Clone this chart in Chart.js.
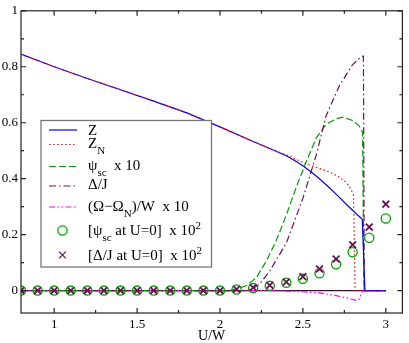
<!DOCTYPE html>
<html>
<head>
<meta charset="utf-8">
<script src="https://cdn.jsdelivr.net/npm/chart.js@4.4.1/dist/chart.umd.min.js"></script>
<style>
  html, body { margin: 0; padding: 0; background: #fff; }
</style>
</head>
<body>
<canvas id="chart" width="409" height="343"></canvas>
<script>
// --- data ---
const xTicks = [1, 1.5, 2, 2.5, 3];
const xTickLabels = ['1', '1.5', '2', '2.5', '3'];
const xMinor = [1.25, 1.75, 2.25, 2.75];
const yTicks = [0, 0.2, 0.4, 0.6, 0.8, 1];
const yTickLabels = ['0', '0.2', '0.4', '0.6', '0.8', '1'];
const yMinor = [0.1, 0.3, 0.5, 0.7, 0.9];

// Z
const zX = [0.8, 1.0, 1.2, 1.4, 1.6, 1.8, 2.0, 2.2, 2.3, 2.4, 2.45, 2.5, 2.55, 2.6, 2.65, 2.7, 2.78, 2.858, 2.874, 3.0];
const zY = [0.845, 0.80, 0.758, 0.718, 0.677, 0.635, 0.585, 0.533, 0.508, 0.482, 0.465, 0.446, 0.424, 0.40, 0.373, 0.345, 0.298, 0.255, 0, 0];
// Z_N
const znX = [0.8, 1.0, 1.2, 1.4, 1.6, 1.8, 2.0, 2.2, 2.3, 2.4, 2.5, 2.6, 2.66, 2.72, 2.76, 2.79, 2.805, 2.815, 3.0];
const znY = [0.845, 0.80, 0.758, 0.718, 0.677, 0.635, 0.585, 0.533, 0.508, 0.485, 0.458, 0.436, 0.424, 0.405, 0.388, 0.362, 0.34, 0, 0];
// psi_sc x 10
const psiX = [0.8, 2.05, 2.1, 2.16, 2.22, 2.28, 2.34, 2.4, 2.46, 2.52, 2.58, 2.64, 2.7, 2.74, 2.8, 2.84, 2.86, 2.868, 3.0];
const psiY = [0, 0, 0.006, 0.018, 0.047, 0.106, 0.18, 0.27, 0.37, 0.46, 0.545, 0.595, 0.614, 0.62, 0.608, 0.588, 0.565, 0, 0];
// Delta/J
const gapX = [0.8, 2.15, 2.2, 2.24, 2.3, 2.4, 2.5, 2.58, 2.64, 2.72, 2.8, 2.85, 2.865, 2.87, 3.0];
const gapY = [0, 0, 0.008, 0.024, 0.07, 0.17, 0.33, 0.484, 0.625, 0.732, 0.808, 0.835, 0.838, 0, 0];
// (Omega - Omega_N)/W x 10
const omX = [0.8, 2.3, 2.4, 2.5, 2.6, 2.7, 2.78, 2.82, 2.84, 2.852, 2.86, 3.0];
const omY = [0, 0, -0.002, -0.004, -0.008, -0.018, -0.028, -0.035, -0.03, -0.012, 0, 0];
// U=0 results (markers)
const markX = [0.8, 0.9, 1.0, 1.1, 1.2, 1.3, 1.4, 1.5, 1.6, 1.7, 1.8, 1.9, 2.0, 2.1, 2.2, 2.3, 2.4, 2.5, 2.6, 2.7, 2.8, 2.9, 3.0];
const psiU0 = [0, 0, 0, 0, 0, 0, 0, 0, 0, 0, 0, 0, 0, 0.004, 0.009, 0.017, 0.028, 0.042, 0.062, 0.094, 0.137, 0.189, 0.258];
const gapU0 = [0, 0, 0, 0, 0, 0, 0, 0, 0, 0, 0, 0, 0, 0.005, 0.011, 0.019, 0.031, 0.05, 0.077, 0.113, 0.164, 0.227, 0.309];

const SERIF = "'Liberation Serif', 'DejaVu Serif', serif";
const BLUE = '#0000ff', RED = '#ff0000', GREEN = '#00a000', MAROON = '#6e1055', MAGENTA = '#ff00ff';

function pts(xs, ys) {
  return xs.map((x, i) => ({ x: x, y: ys[i] }));
}

function lineSet(label, xs, ys, color, dash, order) {
  return {
    label: label,
    data: pts(xs, ys),
    borderColor: color,
    backgroundColor: color,
    borderWidth: 1.2,
    borderDash: dash,
    pointRadius: 0,
    tension: 0,
    order: order
  };
}

function markSet(label, ys, color, style, radius, width, order) {
  return {
    label: label,
    data: pts(markX, ys),
    showLine: false,
    pointStyle: style,
    pointRadius: radius,
    pointBorderWidth: width,
    borderColor: color,
    backgroundColor: 'rgba(0,0,0,0)',
    order: order
  };
}

// --- frame with inward ticks on all four sides, plus the zero line ---
const framePlugin = {
  id: 'frame',
  beforeDatasetsDraw(chart) {
    const { ctx, scales } = chart;
    const y0 = scales.y.getPixelForValue(0);
    ctx.save();
    ctx.strokeStyle = '#3a1030';
    ctx.lineWidth = 1.2;
    ctx.beginPath();
    ctx.moveTo(scales.x.getPixelForValue(markX[0]), y0);
    ctx.lineTo(scales.x.getPixelForValue(markX[markX.length - 1]), y0);
    ctx.stroke();
    ctx.restore();
  },
  afterDatasetsDraw(chart) {
    const { ctx, chartArea: a, scales } = chart;
    const sx = scales.x, sy = scales.y;
    ctx.save();
    ctx.strokeStyle = '#222';
    ctx.lineWidth = 1.2;
    ctx.setLineDash([]);
    ctx.strokeRect(a.left, a.top, a.right - a.left, a.bottom - a.top);
    ctx.beginPath();
    const xt = (list, len) => list.forEach(v => {
      const p = sx.getPixelForValue(v);
      ctx.moveTo(p, a.bottom); ctx.lineTo(p, a.bottom - len);
      ctx.moveTo(p, a.top); ctx.lineTo(p, a.top + len);
    });
    const yt = (list, len) => list.forEach(v => {
      const p = sy.getPixelForValue(v);
      ctx.moveTo(a.left, p); ctx.lineTo(a.left + len, p);
      ctx.moveTo(a.right, p); ctx.lineTo(a.right - len, p);
    });
    xt(xTicks, 5); xt(xMinor, 3);
    yt(yTicks, 5); yt(yMinor, 3);
    ctx.stroke();
    ctx.restore();
  }
};

// draw "Z_{N}" / "10^{2}" style labels
function drawRich(ctx, str, x, y) {
  const parts = str.split(/([_^]\{[^}]*\})/);
  parts.forEach(p => {
    if (!p) return;
    let size = 15, dy = 0, t = p;
    if (p.startsWith('_{')) { size = 11; dy = 6; t = p.slice(2, -1); }
    else if (p.startsWith('^{')) { size = 11; dy = -6; t = p.slice(2, -1); }
    ctx.font = size + 'px ' + SERIF;
    ctx.fillText(t, x, y + dy);
    x += ctx.measureText(t).width;
  });
}

// --- boxed legend in the plot ---
const legendPlugin = {
  id: 'boxLegend',
  afterDraw(chart) {
    const ctx = chart.ctx;
    const box = { x: 41, y: 120.5, w: 170.5, h: 146.5 };
    const mids = [130, 144.5, 166.5, 186, 207, 230.5, 255];
    const bases = [135, 147.5, 169.5, 188.5, 210.5, 234.5, 259.5];
    ctx.save();
    ctx.fillStyle = '#fff';
    ctx.fillRect(box.x, box.y, box.w, box.h);
    ctx.strokeStyle = '#777';
    ctx.lineWidth = 1.3;
    ctx.strokeRect(box.x, box.y, box.w, box.h);
    chart.data.datasets.forEach((ds, i) => {
      const m = mids[i];
      if (ds.showLine === false) {
        ctx.strokeStyle = ds.borderColor;
        ctx.fillStyle = 'rgba(0,0,0,0)';
        ctx.setLineDash([]);
        Chart.helpers.drawPoint(ctx, {
          pointStyle: ds.pointStyle, radius: ds.pointRadius,
          borderWidth: ds.pointBorderWidth, rotation: 0
        }, 62.5, m);
      } else {
        ctx.strokeStyle = ds.borderColor;
        ctx.lineWidth = ds.borderWidth;
        ctx.setLineDash(ds.borderDash || []);
        ctx.beginPath();
        ctx.moveTo(49, m);
        ctx.lineTo(77, m);
        ctx.stroke();
      }
      ctx.setLineDash([]);
      ctx.fillStyle = '#000';
      ctx.textBaseline = 'alphabetic';
      ctx.textAlign = 'left';
      drawRich(ctx, ds.label, 88, bases[i]);
    });
    ctx.restore();
  }
};

const chart = new Chart(document.getElementById('chart'), {
  type: 'line',
  data: {
    datasets: [
      lineSet('Z', zX, zY, BLUE, [], 3),
      lineSet('Z_{N}', znX, znY, RED, [1.5, 2.5], 2),
      lineSet('\u03c8_{sc}  x 10', psiX, psiY, GREEN, [7, 3], 5),
      lineSet('\u0394/J', gapX, gapY, MAROON, [7, 3, 1.5, 3], 4),
      lineSet('(\u03a9\u2212\u03a9_{N})/W  x 10', omX, omY, MAGENTA, [6, 2.5, 1.5, 2.5, 1.5, 2.5], 6),
      markSet('[\u03c8_{sc} at U=0]  x 10^{2}', psiU0, GREEN, 'circle', 4.6, 1.3, 1),
      markSet('[\u0394/J at U=0]  x 10^{2}', gapU0, MAROON, 'crossRot', 4.8, 1.8, 0)
    ]
  },
  options: {
    responsive: false,
    animation: false,
    devicePixelRatio: 1,
    layout: { padding: { top: 5, right: 2, left: 0, bottom: 0 } },
    plugins: { legend: { display: false }, tooltip: { enabled: false } },
    scales: {
      x: {
        type: 'linear', min: 0.8, max: 3.1,
        afterBuildTicks: s => { s.ticks = xTicks.map(v => ({ value: v })); },
        afterFit: s => { s.height = 30; },
        grid: { display: false, drawTicks: false },
        border: { display: false },
        ticks: {
          color: '#000', padding: 4, maxRotation: 0,
          font: { family: SERIF, size: 13 },
          callback: v => xTickLabels[xTicks.indexOf(v)]
        },
        title: {
          display: true, text: 'U/W', color: '#000', padding: 0,
          font: { family: SERIF, size: 14, lineHeight: 0.9 }
        }
      },
      y: {
        type: 'linear', min: -0.08, max: 1.0,
        afterBuildTicks: s => { s.ticks = yTicks.map(v => ({ value: v })); },
        afterFit: s => { s.width = 21; },
        grid: { display: false, drawTicks: false },
        border: { display: false },
        ticks: {
          color: '#000', padding: 3,
          font: { family: SERIF, size: 13 },
          callback: v => yTickLabels[yTicks.indexOf(v)]
        }
      }
    }
  },
  plugins: [framePlugin, legendPlugin]
});
</script>
</body>
</html>
